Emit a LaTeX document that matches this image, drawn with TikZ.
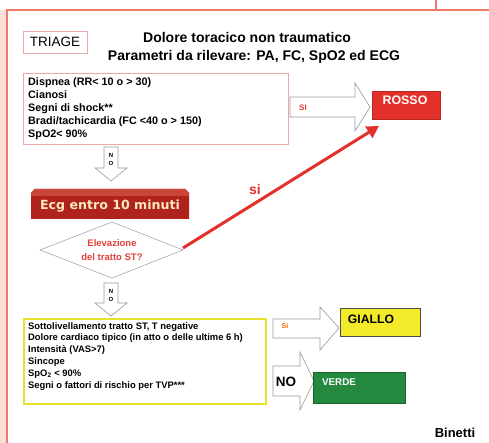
\documentclass[tikz,border=0pt]{standalone}
\usepackage{fontspec}
\setmainfont{Liberation Sans}
\newfontfamily\dvs{DejaVu Sans}
\usetikzlibrary{shapes.geometric,arrows.meta}
\definecolor{framec}{HTML}{F07A6A}
\definecolor{pinkb}{HTML}{EDA8A8}
\definecolor{rossoc}{HTML}{E4302A}
\definecolor{ecgc}{HTML}{B0231D}
\definecolor{ecgtop}{HTML}{C9463A}
\definecolor{ecgtext}{HTML}{F8E9C0}
\definecolor{yelb}{HTML}{E8E22E}
\definecolor{gialloc}{HTML}{F3EA2A}
\definecolor{verdec}{HTML}{24893E}
\definecolor{arrg}{HTML}{9A9A9A}
\definecolor{sitext}{HTML}{E0403A}
\tikzset{
  blockarr/.style={draw=arrg, line width=0.6pt, fill=white, line join=miter},
  listtext/.style={font=\bfseries\fontsize{10.8}{13}\selectfont, align=left, anchor=north west, inner sep=0pt},
  smalltext/.style={font=\bfseries\fontsize{9.4}{11.8}\selectfont, align=left, anchor=north west, inner sep=0pt},
}
\begin{document}
\begin{tikzpicture}[x=1pt,y=-1pt]
\useasboundingbox (0,0) rectangle (489,443);
\fill[white] (0,0) rectangle (489,443);
% frame
\fill[framec!25] (0,10) rectangle (6,443);
\draw[framec, line width=1.6pt] (7,443) -- (7,10) -- (489,10);
\draw[framec, line width=1.6pt] (436,0) -- (436,10);
% header
\node[draw=pinkb, line width=0.8pt, minimum width=64pt, minimum height=22pt, inner sep=0pt, font=\fontsize{13.5}{14}\selectfont] (triage) at (55,42) {TRIAGE};
\node[font=\bfseries\fontsize{14}{15}\selectfont] (title1) at (247,37) {Dolore toracico non traumatico};
\node[font=\bfseries\fontsize{14}{15}\selectfont] (title2) at (254,57) {Parametri da rilevare: PA, FC, SpO2 ed ECG};
% box 1
\node[draw=pinkb, line width=0.8pt, minimum width=265pt, minimum height=71pt, inner sep=0pt, anchor=north west] (box1) at (23,73) {};
\node[listtext] (list1) at (28,77) {Dispnea (RR< 10 o > 30)\\Cianosi\\Segni di shock**\\Bradi/tachicardia (FC <40 o > 150)\\SpO2< 90\%};
% SI arrow to ROSSO
\draw[blockarr] (290,97) -- (355,97) -- (355,83) -- (370,107) -- (355,131) -- (355,117) -- (290,117) -- cycle;
\node[text=sitext, font=\bfseries\fontsize{8}{8}\selectfont] (si1) at (303,107.5) {SI};
\node[fill=rossoc, draw=rossoc!80!black, line width=0.4pt, minimum width=68pt, minimum height=28pt, inner sep=0pt, anchor=north west] (rosso) at (372,91) {};
\node[text=white, font=\bfseries\fontsize{12.4}{13}\selectfont] (rossot) at (405,100) {ROSSO};
% NO arrow 1
\draw[blockarr] (104,147) -- (118,147) -- (118,168) -- (127,168) -- (111,181) -- (95,168) -- (104,168) -- cycle;
\node[font=\bfseries\fontsize{6}{8}\selectfont, align=center, inner sep=0pt] (no1) at (111,159) {N\\O};
% ECG box
\fill[ecgc] (31,219) -- (31,193) -- (35,189) -- (185,189) -- (189,193) -- (189,219) -- cycle;
\fill[ecgtop] (31,196) -- (31,193) -- (35,189) -- (185,189) -- (189,193) -- (189,196) -- cycle;
\node[text=ecgtext, font=\dvs\bfseries\fontsize{12.6}{13}\selectfont] (ecg) at (110,206) {Ecg entro 10 minuti};
% diamond
\draw[arrg, line width=0.5pt, fill=white] (40,250) -- (112,222) -- (183,250) -- (112,278) -- cycle;
\coordinate (diaE) at (183,248);
\node[text=sitext, font=\bfseries\fontsize{9.5}{14}\selectfont, align=center] (diat) at (112,250) {Elevazione\\del tratto ST?};
% red si arrow
\coordinate (rossoTip) at (379,126);
\draw[rossoc, line width=3pt, -{Triangle[length=12pt,width=13pt]}] (diaE) -- (rossoTip);
\node[text=rossoc, font=\bfseries\fontsize{14}{15}\selectfont] (si2) at (255,189) {si};
% NO arrow 2
\draw[blockarr] (104,283) -- (118,283) -- (118,303) -- (127,303) -- (111,316) -- (95,303) -- (104,303) -- cycle;
\node[font=\bfseries\fontsize{6}{8}\selectfont, align=center, inner sep=0pt] (no2) at (111,295) {N\\O};
% yellow box
\node[draw=yelb, line width=2pt, minimum width=242pt, minimum height=85pt, inner sep=0pt, anchor=north west] (box2) at (23,318) {};
\node[smalltext] (list2) at (28,322) {Sottolivellamento tratto ST, T negative\\Dolore cardiaco tipico (in atto o delle ultime 6 h)\\Intensità (VAS>7)\\Sincope\\SpO$_{\mathbf 2}$ < 90\%\\Segni o fattori di rischio per TVP***};
% SI arrow to GIALLO
\draw[blockarr] (273,319) -- (320,319) -- (320,307) -- (339,328) -- (320,350) -- (320,338) -- (273,338) -- cycle;
\node[text=orange!80!red, font=\bfseries\fontsize{7}{7}\selectfont] (si3) at (285,326) {Si};
\node[fill=gialloc, draw=black!70, line width=0.6pt, minimum width=80pt, minimum height=28pt, inner sep=0pt, anchor=north west] (giallo) at (340,308) {};
\node[font=\bfseries\fontsize{12.2}{13}\selectfont] (giallot) at (371,319) {GIALLO};
% NO arrow to VERDE
\draw[blockarr] (273,366) -- (300,366) -- (300,352) -- (314,381) -- (300,410) -- (300,396) -- (273,396) -- cycle;
\node[font=\bfseries\fontsize{13.5}{14}\selectfont] (no3) at (286,382) {NO};
\node[fill=verdec, draw=verdec!70!black, line width=0.5pt, minimum width=92pt, minimum height=31pt, inner sep=0pt, anchor=north west] (verde) at (313,372) {};
\node[text=white, font=\bfseries\fontsize{9.8}{10}\selectfont] (verdet) at (339,382) {VERDE};
% footer
\node[font=\bfseries\fontsize{13}{14}\selectfont] (binetti) at (455,433) {Binetti};
\end{tikzpicture}
\end{document}
